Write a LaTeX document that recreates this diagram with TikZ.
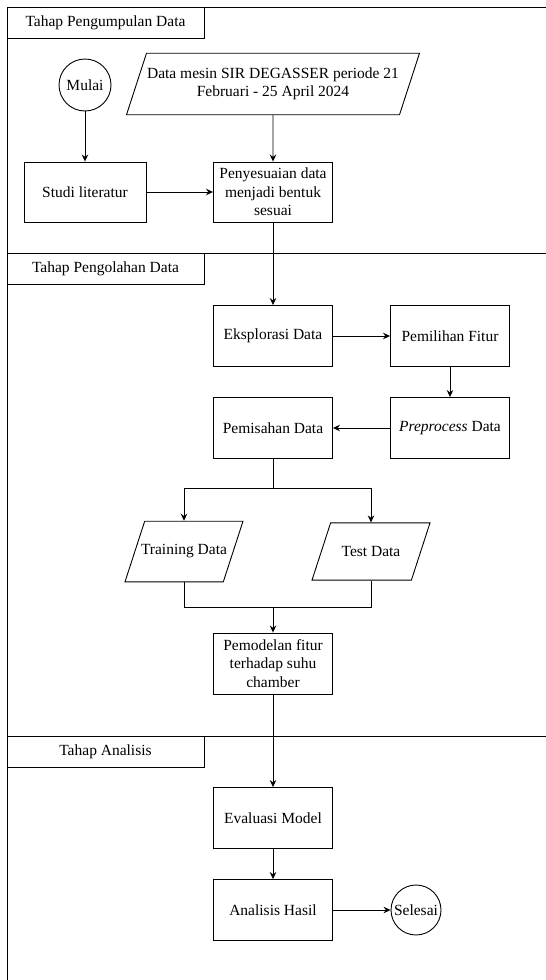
\documentclass[tikz,border=0pt]{standalone}
\usepackage{fontspec}
\setmainfont{Liberation Serif}
\usepackage{tikz}
\usetikzlibrary{arrows.meta,positioning,shapes.geometric}

\tikzset{
proc/.style={draw, rectangle, minimum width=119pt, minimum height=61pt, align=center, inner sep=2pt},
io/.style={draw, trapezium, trapezium left angle=72, trapezium right angle=108, trapezium stretches body=true, align=center, inner xsep=-4pt, inner ysep=23.5pt},
term/.style={draw, circle, inner sep=0pt},
lane/.style={draw, rectangle, minimum width=197pt, minimum height=31pt, inner sep=0pt},
arr/.style={-{Stealth[length=7pt,width=6.5pt]}}
}

\begin{document}
\begin{tikzpicture}[x=1pt, y=-1pt, line width=0.9pt, font=\rmfamily\fontsize{15.5}{18.5}\selectfont]
\useasboundingbox (0,0) rectangle (546,980);

% frame and lanes
\draw (546,7) -- (7,7) -- (7,980);
\draw (7,253) -- (546,253);
\draw (7,736) -- (546,736);
\node[lane] (lane1) at (105.5,22.5) {Tahap Pengumpulan Data};
\node[lane] (lane2) at (105.5,268.5) {Tahap Pengolahan Data};
\node[lane] (lane3) at (105.5,751.5) {Tahap Analisis};

% Tahap Pengumpulan Data
\node[term, minimum size=52pt] (mulai) at (85,85) {Mulai};
\node[io, minimum width=293pt, inner ysep=14.5pt] (data) at (273,84) {Data mesin SIR DEGASSER periode 21\\Februari - 25 April 2024};
\node[proc, minimum width=122pt, minimum height=60pt] (studi) at (85,192) {Studi literatur};
\node[proc, minimum height=60pt] (penyesuaian) at (273,192) {Penyesuaian data\\menjadi bentuk\\sesuai};

% Tahap Pengolahan Data
\node[proc] (eksplorasi) at (273,336) {Eksplorasi Data};
\node[proc] (pemilihan) at (450,336) {Pemilihan Fitur};
\node[proc] (preprocess) at (450,428) {\textit{Preprocess} Data};
\node[proc] (pemisahan) at (273,428) {Pemisahan Data};
\coordinate (split) at (273,488);
\node[io, minimum width=118pt] (training) at (184,551.5) {Training Data};
\node[io, minimum width=118pt] (test) at (371,551.5) {Test Data};
\coordinate (join) at (273,607);
\node[proc] (pemodelan) at (273,663.5) {Pemodelan fitur\\terhadap suhu\\chamber};

% Tahap Analisis
\node[proc] (evaluasi) at (273,818) {Evaluasi Model};
\node[proc] (analisis) at (273,910) {Analisis Hasil};
\node[term, minimum size=50pt] (selesai) at (416,910) {Selesai};

\draw[arr] (mulai) -- (studi);
\draw[arr] (data) -- (penyesuaian);
\draw[arr] (studi) -- (penyesuaian);
\draw[arr] (penyesuaian) -- (eksplorasi);
\draw[arr] (eksplorasi) -- (pemilihan);
\draw[arr] (pemilihan) -- (preprocess);
\draw[arr] (preprocess) -- (pemisahan);
\draw (pemisahan) -- (split);
\draw[arr] (split) -| (training);
\draw[arr] (split) -| (test);
\draw (training) |- (join);
\draw (test) |- (join);
\draw[arr] (join) -- (pemodelan);
\draw[arr] (pemodelan) -- (evaluasi);
\draw[arr] (evaluasi) -- (analisis);
\draw[arr] (analisis) -- (selesai);
\end{tikzpicture}
\end{document}
